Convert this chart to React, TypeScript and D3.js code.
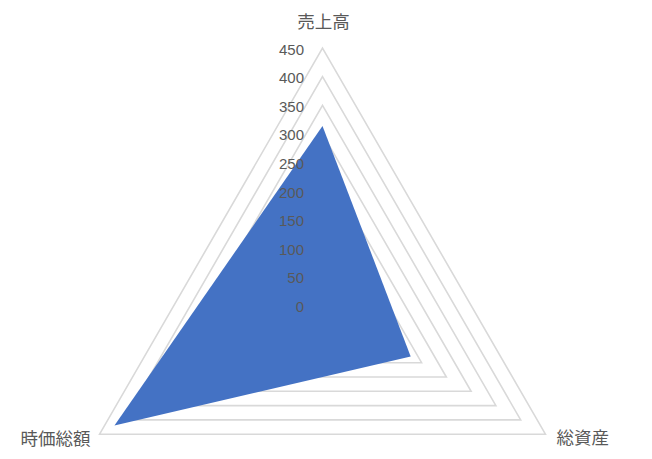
import React from "react";
import * as d3 from "d3";

const categories = ["売上高", "総資産", "時価総額"];
const values = [314, 178, 420];
const tickValues = [0, 50, 100, 150, 200, 250, 300, 350, 400, 450];

const W = 652;
const H = 459;
const cx = 322.5;
const cy = 305.5;
const R = 257.4;

export default function App() {
  const r = d3.scaleLinear().domain([0, 450]).range([0, R]);
  const angle = (i: number) => (i * 2 * Math.PI) / categories.length;
  const radial = d3
    .lineRadial<number>()
    .angle((_, i) => angle(i))
    .radius((d) => r(d))
    .curve(d3.curveLinearClosed);

  const gridLevels = tickValues.filter((t) => t > 0);
  const textColor = "#595959";
  const catFont = "'Noto Sans CJK JP', 'Noto Sans', sans-serif";

  const catPos = (i: number, off: number) => {
    const a = angle(i);
    return [cx + Math.sin(a) * (R + off), cy - Math.cos(a) * (R + off)];
  };
  const [tX, tY] = catPos(0, 28);
  const [rX, rY] = catPos(1, 0);
  const [lX, lY] = catPos(2, 0);

  return (
    <svg
      width={W}
      height={H}
      style={{ position: "absolute", left: 0, top: 0, background: "#fff" }}
    >
      <g transform={`translate(${cx},${cy})`}>
        {gridLevels.map((t) => (
          <path
            key={t}
            d={radial(categories.map(() => t)) || ""}
            fill="none"
            stroke="#d9d9d9"
            strokeWidth={1.6}
          />
        ))}
        <path d={radial(values) || ""} fill="#4472c4" stroke="none" />
      </g>
      {tickValues.map((t) => (
        <text
          key={t}
          x={304}
          y={cy - r(t) + 1}
          textAnchor="end"
          dominantBaseline="central"
          fontFamily="'Liberation Sans', Arial, sans-serif"
          fontSize={15}
          fill={textColor}
        >
          {t}
        </text>
      ))}
      <text
        x={tX + 1}
        y={tY}
        textAnchor="middle"
        dominantBaseline="central"
        fontFamily={catFont}
        fontSize={17.5}
        fill={textColor}
      >
        {categories[0]}
      </text>
      <text
        x={rX + 11}
        y={rY + 2.5}
        textAnchor="start"
        dominantBaseline="central"
        fontFamily={catFont}
        fontSize={17.5}
        fill={textColor}
      >
        {categories[1]}
      </text>
      <text
        x={lX - 9}
        y={lY + 3}
        textAnchor="end"
        dominantBaseline="central"
        fontFamily={catFont}
        fontSize={17.5}
        fill={textColor}
      >
        {categories[2]}
      </text>
    </svg>
  );
}
